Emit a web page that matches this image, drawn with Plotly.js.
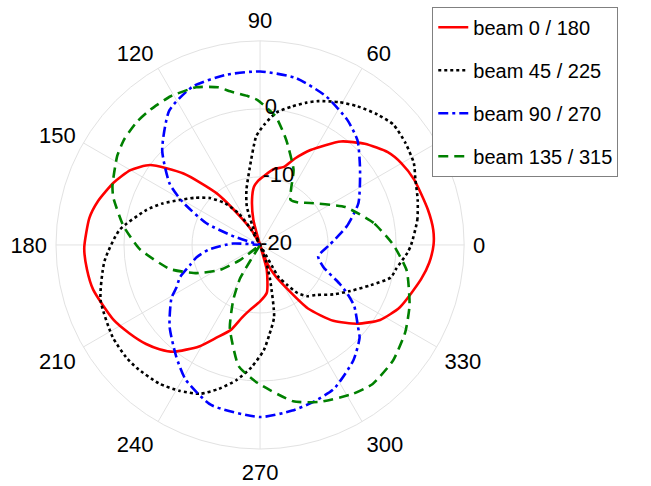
<!DOCTYPE html>
<html>
<head>
<meta charset="utf-8">
<script src="https://cdn.plot.ly/plotly-3.0.1.min.js"></script>
<style>html,body{margin:0;padding:0;background:#fff;}#chart{width:651px;height:486px;}</style>
</head>
<body>
<div id="chart"></div>
<script>
// Beam names
var beamNames = ['beam 0 / 180', 'beam 45 / 225', 'beam 90 / 270', 'beam 135 / 315'];

// beam 0 / 180 (dB vs angle in degrees)
var redTheta = [0,5,12,23,30,36,44,52,62,68,73,80,87,92,96,100,105,110,116,120,125,130,137,144,150,157,165,171,181,188,195,207,214,221,226,231,239,245,251,256,261,270,278,285,288,291,296,301,307,314,321,328,336,348,354,360];
var redR = [5.5,5.55,5.2,4.6,4.0,3.2,1.4,-0.7,-4.2,-6.3,-8.0,-8.7,-9.9,-10.6,-11.4,-13.2,-16.2,-20,-20,-17.5,-14.9,-10.1,-4.6,0,2.0,3.4,4.7,5.4,5.85,5.7,5.4,4.2,3.2,2.2,1.3,0.2,-2.6,-5.0,-6.8,-9.0,-10.3,-11.7,-12.9,-16.2,-20,-17.1,-15.0,-12.8,-8.3,-4.5,-1.6,0.8,2.5,4.2,5.0,5.5];

// beam 45 / 225
var blackTheta = [0,9,16,23,28,35,42,48,55,61,68,72,77,83,88,92,98,104,109,113,116,120,124,130,137,144,151,157,163,174,186,199,212,220,225,234,241,248,254,260,266,272,276,281,286,290,295,300,304,308,313,318,326,333,340,346,350,357,360];
var blackR = [2.2,3.4,4.1,4.8,5.6,6.1,6.4,5.8,4.9,4.0,2.8,2.0,0.9,-0.4,-2.3,-4.0,-8.8,-11.7,-14.0,-18.0,-20,-17.5,-14.5,-12.0,-9.9,-8.2,-6.4,-4.4,-2.5,0.8,3.0,4.8,5.55,5.7,5.6,5.2,4.5,3.6,2.0,0.2,-2.0,-4.5,-6.8,-9.2,-14.6,-17.5,-20,-14.5,-13.0,-11.0,-9.7,-9.0,-7.0,-5.1,-2.7,-0.2,0.3,1.7,2.2];

// beam 90 / 270
var blueTheta = [0,12,23,37,47,55,66,78,90,101,113,124,136,146,151,158,162,166,174,177,185,191,196,202,207,211,222,233,241,253,270,281,288,297,309,317,320,327,331,334,341,349,360];
var blueR = [-9.8,-7.0,-4.3,-1.6,1.0,2.4,3.9,5.1,5.5,5.5,5.3,3.85,0,-4.0,-7.0,-11.5,-16.0,-20,-20,-16.0,-12.5,-10.5,-9.3,-7.3,-6.2,-4.8,-2.1,0.5,2.6,4.6,5.3,4.8,4.4,3.8,1.8,0,-1.2,-3.5,-5.4,-7.0,-10.2,-11.3,-9.8];

// beam 135 / 315
var greenTheta = [0,11,24,40,48,56,61,66,76,83,91,95,101,105,112,121,129,135,142,148,158,162,172,182,195,204,212,217,222,235,239,244,250,260,269,282,291,302,309,319,329,338,350,360];
var greenR = [-0.4,-3.0,-6.3,-10.4,-11.6,-12.0,-10.6,-7.9,-4.1,-1.0,1.3,2.0,3.0,4.0,5.0,5.5,5.6,5.6,5.3,4.75,3.4,2.7,0.3,-2.3,-6.3,-9.8,-13.1,-16.3,-20,-20,-14.3,-11.0,-7.0,-1.9,0.3,3.5,4.7,5.8,6.3,5.9,4.9,3.7,1.9,-0.4];

// Axis ticks
var angleTicks = [0,30,60,90,120,150,180,210,240,270,300,330];
var angleLabels = ['0','30','60','90','120','150','180','210','240','270','300','330'];
var radialTicks = [-20,-10,0];
var radialLabels = ['-20','-10','0'];
var radialLabelAngle = 88;
var radialRange = [-20,10];

var FONT = 'Liberation Sans, Arial, sans-serif';

var traces = [
  {theta: redTheta, r: redR, color: '#ff0000', dash: 'solid', smooth: 0.6},
  {theta: blackTheta, r: blackR, color: '#000000', dash: '3px,3px', smooth: 0.6},
  {theta: blueTheta, r: blueR, color: '#0000ff', dash: '10px,4px,3px,4px', smooth: 0.6},
  {theta: greenTheta, r: greenR, color: '#008000', dash: '10px,6px', smooth: 0.5}
].map(function (t, i) {
  return {
    type: 'scatterpolar',
    mode: 'lines',
    theta: t.theta,
    r: t.r,
    name: beamNames[i],
    legendgroup: 'g' + i,
    line: {color: t.color, width: 2.6, dash: t.dash, shape: 'spline', smoothing: t.smooth},
    hoverinfo: 'skip'
  };
});

// radial tick labels, placed through the polar scale at the radial tick values
traces.push({
  type: 'scatterpolar',
  mode: 'text',
  theta: radialTicks.map(function () { return radialLabelAngle; }),
  r: radialTicks,
  text: radialLabels,
  textposition: 'middle right',
  textfont: {family: FONT, size: 22, color: '#000000'},
  showlegend: false,
  hoverinfo: 'skip',
  cliponaxis: false
});

var layout = {
  width: 651,
  height: 486,
  margin: {l: 0, r: 0, t: 0, b: 0},
  paper_bgcolor: '#ffffff',
  font: {family: FONT, color: '#000000', size: 22},
  showlegend: true,
  legend: {
    x: 0.664, y: 0.986, xanchor: 'left', yanchor: 'top',
    bgcolor: '#ffffff', bordercolor: '#808080', borderwidth: 1,
    font: {family: FONT, size: 20, color: '#000000'},
    tracegroupgap: 14, traceorder: 'grouped', itemwidth: 30
  },
  polar: {
    domain: {x: [0.086, 0.713], y: [0.076, 0.916]},
    bgcolor: '#ffffff',
    angularaxis: {
      rotation: 0, direction: 'counterclockwise',
      tickmode: 'array', tickvals: angleTicks, ticktext: angleLabels,
      tickfont: {family: FONT, size: 22, color: '#000000'},
      gridcolor: '#e2e2e2', linecolor: '#e2e2e2', showline: true,
      ticks: 'outside', ticklen: 4, tickcolor: 'rgba(0,0,0,0)'
    },
    radialaxis: {
      range: radialRange, tickmode: 'array', tickvals: radialTicks,
      angle: 90, showticklabels: false, showline: false, ticks: '',
      gridcolor: '#e2e2e2'
    }
  }
};

Plotly.newPlot('chart', traces, layout, {staticPlot: true, displayModeBar: false});
</script>
</body>
</html>
